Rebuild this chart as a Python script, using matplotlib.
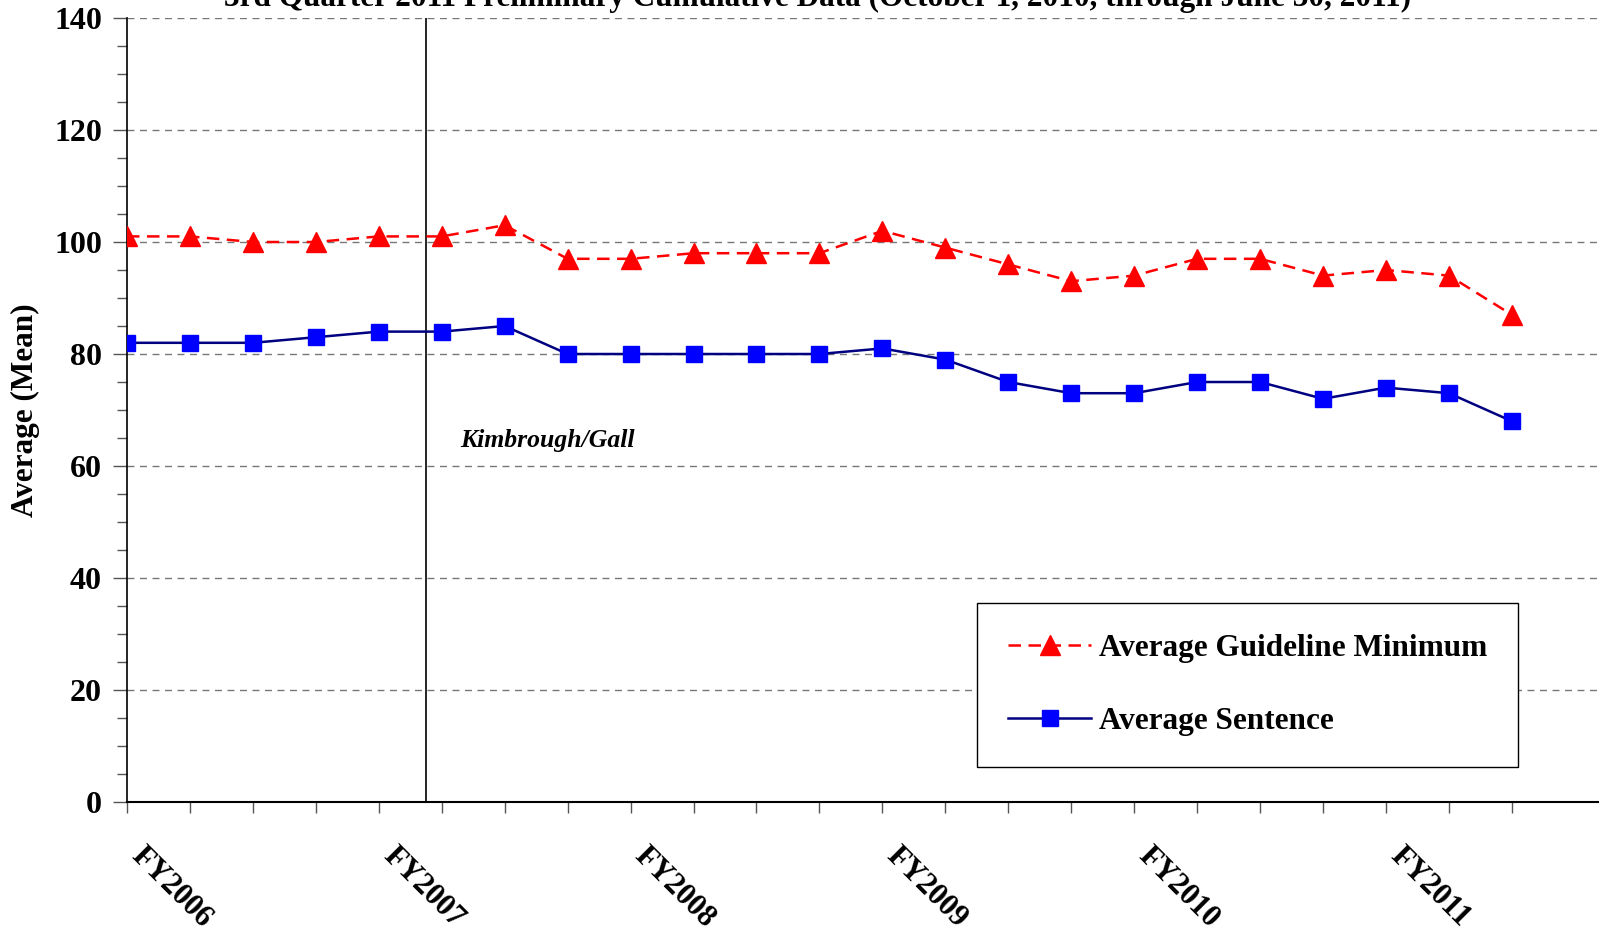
import numpy as np
import matplotlib.pyplot as plt
from matplotlib.ticker import MultipleLocator

# quarterly points, FY2006 Q1 .. FY2011 Q3
quarters = list(range(23))
fy_labels = ["FY2006", "FY2007", "FY2008", "FY2009", "FY2010", "FY2011"]
fy_positions = [0, 4, 8, 12, 16, 20]

guideline_min = [101, 101, 100, 100, 101, 101, 103, 97, 97, 98, 98, 98,
                 102, 99, 96, 93, 94, 97, 97, 94, 95, 94, 87]
avg_sentence = [82, 82, 82, 83, 84, 84, 85, 80, 80, 80, 80, 80,
                81, 79, 75, 73, 73, 75, 75, 72, 74, 73, 68]

kimbrough_x = 4.75
title = "3rd Quarter 2011 Preliminary Cumulative Data (October 1, 2010, through June 30, 2011)"

plt.rcParams['font.family'] = ['Liberation Serif', 'DejaVu Serif']
plt.rcParams['font.weight'] = 'bold'

fig = plt.figure(figsize=(15.99, 9.48), dpi=100)
ax = fig.add_axes([0.0794, 0.154, 0.9206, 0.827])

ax.plot(quarters, guideline_min, color='red', linestyle=(0, (5, 3)), linewidth=1.8,
        marker='^', markersize=14, markerfacecolor='red', markeredgecolor='red',
        label='Average Guideline Minimum', zorder=3)
ax.plot(quarters, avg_sentence, color='#000080', linewidth=1.8,
        marker='s', markersize=11, markerfacecolor='blue', markeredgecolor='blue',
        label='Average Sentence', zorder=3)

ax.axvline(kimbrough_x, color='black', linewidth=1.2, zorder=2)
ax.text(5.3, 64.6, "Kimbrough/Gall", fontsize=18.5, style='italic', fontweight='bold',
        va='center', ha='left')

ax.set_xlim(0, (1599 - 127) / 62.95)
ax.set_ylim(0, 140)
ax.yaxis.set_major_locator(MultipleLocator(20))
ax.yaxis.set_minor_locator(MultipleLocator(5))
ax.set_xticks(quarters)
ax.set_xticklabels([])
ax.tick_params(axis='x', direction='out', length=8, width=1, color='#555555')
ax.tick_params(axis='y', which='major', direction='out', length=10, width=1,
               color='#555555', labelsize=23, pad=8)
ax.tick_params(axis='y', which='minor', direction='out', length=7, width=1, color='#555555')
for lbl in ax.get_yticklabels():
    lbl.set_fontweight('bold')

for pos, lab in zip(fy_positions, fy_labels):
    ax.text(pos + 0.3, -7, lab, rotation=-45, rotation_mode='anchor',
            ha='left', va='top', fontsize=22, fontweight='bold')

ax.grid(axis='y', which='major', color='#777777', linestyle=(0, (5, 4)), linewidth=1)
ax.set_axisbelow(True)
for s in ['top', 'right']:
    ax.spines[s].set_visible(False)
ax.spines['left'].set_linewidth(1.2)
ax.spines['bottom'].set_linewidth(1.5)

ax.set_ylabel("Average (Mean)", fontsize=22.5, fontweight='bold', labelpad=10)

leg = ax.legend(loc='upper left', bbox_to_anchor=(977 / 1599, 1 - 603 / 948),
                bbox_transform=fig.transFigure, borderaxespad=0, fancybox=False,
                edgecolor='black', framealpha=1, prop={'weight': 'bold', 'size': 22.5},
                handlelength=2.65, labelspacing=1.4, borderpad=1.0, handletextpad=0.25)
leg.get_frame().set_linewidth(1)

fig.text(0.511, 0.994, title, ha='center', va='baseline', fontsize=22.5, fontweight='bold')

fig.savefig("out.png", dpi=100)
